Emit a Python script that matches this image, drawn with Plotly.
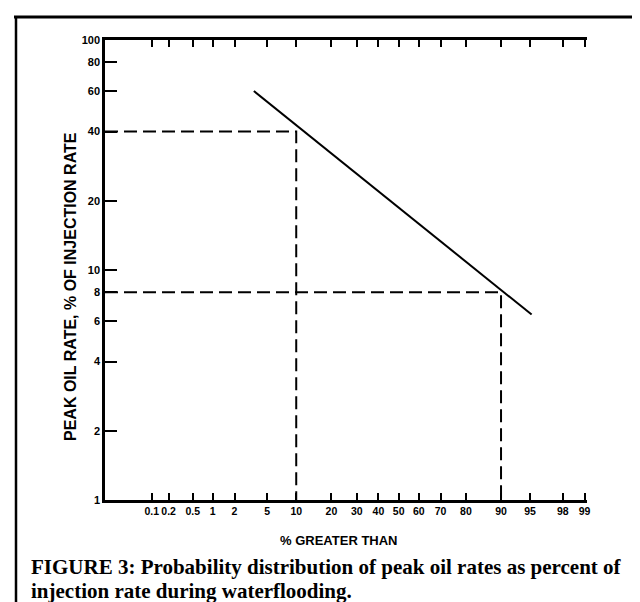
import plotly.graph_objects as go
from statistics import NormalDist

# ---- data ----
tick_pct = [0.1, 0.2, 0.5, 1, 2, 5, 10, 20, 30, 40, 50, 60, 70, 80, 90, 95, 98, 99]
tick_pct_text = ["0.1", "0.2", "0.5", "1", "2", "5", "10", "20", "30", "40", "50",
                 "60", "70", "80", "90", "95", "98", "99"]
y_ticks = [1, 2, 4, 6, 8, 10, 20, 40, 60, 80, 100]
y_tick_text = ["1", "2", "4", "6", "8", "10", "20", "40", "60", "80", "100"]

line_pct = [3.5, 95.2]          # % greater than
line_rate = [60, 6.4]           # peak oil rate, % of injection rate

guide10_pct = [0.0119, 10, 10]  # dashed guide at 10%
guide10_rate = [40, 40, 1]
guide90_pct = [0.0119, 90, 90]  # dashed guide at 90%
guide90_rate = [8, 8, 1]

x_range_pct = [0.0119, 99.08]

nd = NormalDist()
def z(p):
    return [nd.inv_cdf(v / 100.0) for v in p]

fig = go.Figure()
dash = "13px,6px"
fig.add_trace(go.Scatter(x=z(guide10_pct), y=guide10_rate, mode="lines",
                         line=dict(color="black", width=2, dash=dash), showlegend=False))
fig.add_trace(go.Scatter(x=z(guide90_pct), y=guide90_rate, mode="lines",
                         line=dict(color="black", width=2, dash=dash), showlegend=False))
fig.add_trace(go.Scatter(x=z(line_pct), y=line_rate, mode="lines",
                         line=dict(color="black", width=2), showlegend=False))

L, R, T, B = 97, 61, 32, 110
W, H = 640, 602
pw, ph = W - L - R, H - T - B
def px(x):
    return (x - L) / pw
def py(y):
    return (H - B - y) / ph

sans = "Liberation Sans, Arial, sans-serif"
xtickfont = dict(family=sans, size=10.5, color="black", weight="bold")
ytickfont = dict(family=sans, size=11, color="black", weight="bold")
fig.update_xaxes(range=z(x_range_pct), tickvals=z(tick_pct), ticktext=tick_pct_text,
                 tickangle=0,
                 ticks="inside", ticklen=7, tickwidth=2, tickcolor="black",
                 showline=True, linecolor="black", linewidth=2.5, mirror="ticks",
                 showgrid=False, zeroline=False, tickfont=xtickfont)
fig.update_yaxes(type="log", range=[0, 2], tickvals=y_ticks, ticktext=y_tick_text,
                 ticks="inside", ticklen=12, tickwidth=2, tickcolor="black",
                 showline=True, linecolor="black", linewidth=2.5, mirror=False,
                 showgrid=False, zeroline=False, tickfont=ytickfont)

serif = "Liberation Serif, Times New Roman, serif"
fig.update_layout(
    width=W, height=H,
    margin=dict(l=L, r=R, t=T, b=B, pad=0),
    paper_bgcolor="white", plot_bgcolor="white",
    font=dict(family=sans, color="black"),
    annotations=[
        dict(text="<b>PEAK OIL RATE, % OF INJECTION RATE</b>", textangle=-90,
             xref="paper", yref="paper", x=px(62), y=py(279), showarrow=False,
             xanchor="center", yanchor="middle",
             font=dict(size=16, family=sans)),
        dict(text="<b>% GREATER THAN</b>", xref="paper", yref="paper",
             x=px(330), y=py(532), showarrow=False, xanchor="center", yanchor="middle",
             font=dict(size=13, family=sans)),
        dict(text="<b>FIGURE 3: Probability distribution of peak oil rates as percent of</b>",
             xref="paper", yref="paper", x=px(21), y=py(559), showarrow=False,
             xanchor="left", yanchor="middle",
             font=dict(size=21, family=serif)),
        dict(text="<b>injection rate during waterflooding.</b>",
             xref="paper", yref="paper", x=px(21), y=py(583), showarrow=False,
             xanchor="left", yanchor="middle",
             font=dict(size=21, family=serif)),
    ],
    shapes=[
        dict(type="line", xref="paper", yref="paper", x0=px(6), x1=px(640),
             y0=py(9), y1=py(9), line=dict(color="black", width=3)),
        dict(type="line", xref="paper", yref="paper", x0=px(8), x1=px(8),
             y0=py(9), y1=py(602), line=dict(color="black", width=2.5)),
    ],
)

fig.write_html("out.html")
